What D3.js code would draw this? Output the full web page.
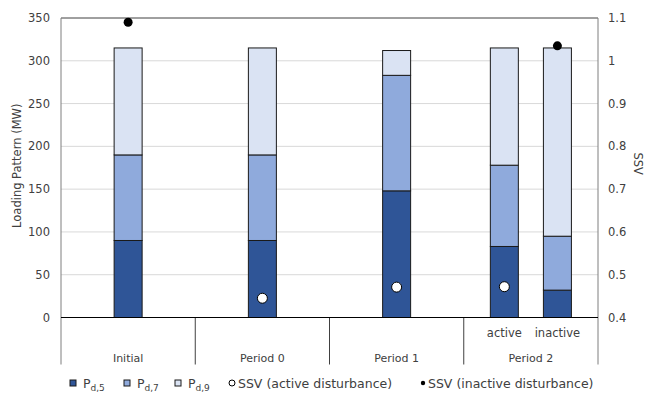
<!DOCTYPE html>
<html lang="en">
<head>
  <meta charset="utf-8">
  <title>Loading pattern and SSV</title>
  <style>
    body { margin: 0; background: #fff; }
    svg text { font-family: "DejaVu Sans", Verdana, sans-serif; fill: #404040; }
  </style>
</head>
<body>
  <svg id="chart" width="655" height="393"></svg>

  <script src="https://d3js.org/d3.v7.min.js"></script>
  <script>
    // bars, left to right
    const groups = ["Initial", "Period 0", "Period 1", "Period 2", "Period 2"];
    const subLabels = ["", "", "", "active", "inactive"];
    const pd5 = [90, 90, 148, 83, 32];
    const pd7 = [100, 100, 135, 95, 63];
    const pd9 = [125, 125, 29, 137, 220];
    const ssvActive = [null, 0.445, 0.471, 0.472, null];
    const ssvInactive = [1.09, null, null, null, 1.035];

    const leftTicks = [0, 50, 100, 150, 200, 250, 300, 350];
    const rightTicks = [0.4, 0.5, 0.6, 0.7, 0.8, 0.9, 1, 1.1];
    const groupNames = ["Initial", "Period 0", "Period 1", "Period 2"];

    const colors = ["#2f5597", "#8faadc", "#dae3f3"];
    const margin = { left: 61, right: 57, top: 18, bottom: 75.5 };
    const W = 655, H = 393;
    const plotW = W - margin.left - margin.right;
    const plotH = H - margin.top - margin.bottom;

    const svg = d3.select("#chart");
    const g = svg.append("g").attr("transform", `translate(${margin.left},${margin.top})`);

    const y = d3.scaleLinear().domain([0, 350]).range([plotH, 0]);
    const y2 = d3.scaleLinear().domain([0.4, 1.1]).range([plotH, 0]);
    const xg = d3.scaleBand().domain(groupNames).range([0, plotW]);

    // bar center inside its group
    function barCenter(i) {
      const sub = groups.filter(d => d === groups[i]);
      if (sub.length === 1) return xg(groups[i]) + xg.bandwidth() / 2;
      const xs = d3.scaleBand().domain(subLabels.filter((s, j) => groups[j] === groups[i]))
        .range([0, xg.bandwidth()]).paddingOuter(0.265).paddingInner(0);
      return xg(groups[i]) + xs(subLabels[i]) + xs.bandwidth() / 2;
    }
    const barW = 28;

    // gridlines
    g.append("g").selectAll("line")
      .data(leftTicks.filter(d => d > 0 && d < 350))
      .join("line")
      .attr("x1", 0).attr("x2", plotW)
      .attr("y1", d => y(d)).attr("y2", d => y(d))
      .attr("stroke", "#d9d9d9").attr("stroke-width", 1);

    // stacked bars
    const stackData = groups.map((grp, i) => ({ i, pd5: pd5[i], pd7: pd7[i], pd9: pd9[i] }));
    const series = d3.stack().keys(["pd5", "pd7", "pd9"])(stackData);
    g.append("g").selectAll("g")
      .data(series)
      .join("g")
      .attr("fill", (d, k) => colors[k])
      .selectAll("rect")
      .data(d => d)
      .join("rect")
      .attr("x", d => barCenter(d.data.i) - barW / 2)
      .attr("y", d => y(d[1]))
      .attr("width", barW)
      .attr("height", d => y(d[0]) - y(d[1]))
      .attr("stroke", "#1a1a1a")
      .attr("stroke-width", 1);

    // frame
    const frame = g.append("g").attr("stroke", "#7f7f7f").attr("fill", "none");
    frame.append("line").attr("x1", 0).attr("x2", plotW).attr("y1", 0).attr("y2", 0).attr("stroke", "#404040");
    frame.append("line").attr("x1", 0).attr("x2", 0).attr("y1", 0).attr("y2", plotH + 47);
    frame.append("line").attr("x1", plotW).attr("x2", plotW).attr("y1", 0).attr("y2", plotH + 47);
    // category dividers
    frame.selectAll(".div")
      .data(groupNames.slice(1))
      .join("line")
      .attr("stroke", "#404040")
      .attr("x1", d => xg(d)).attr("x2", d => xg(d))
      .attr("y1", plotH).attr("y2", plotH + 47);
    g.append("line").attr("x1", 0).attr("x2", plotW).attr("y1", plotH).attr("y2", plotH)
      .attr("stroke", "#000").attr("stroke-width", 1.2);

    // SSV points
    g.append("g").selectAll("circle")
      .data(ssvActive.map((v, i) => ({ v, i })).filter(d => d.v != null))
      .join("circle")
      .attr("cx", d => barCenter(d.i)).attr("cy", d => y2(d.v)).attr("r", 5)
      .attr("fill", "#fff").attr("stroke", "#000").attr("stroke-width", 1);
    g.append("g").selectAll("circle")
      .data(ssvInactive.map((v, i) => ({ v, i })).filter(d => d.v != null))
      .join("circle")
      .attr("cx", d => barCenter(d.i)).attr("cy", d => y2(d.v)).attr("r", 4.5)
      .attr("fill", "#000");

    // left axis labels
    g.append("g").selectAll("text")
      .data(leftTicks)
      .join("text")
      .attr("x", -11).attr("y", d => y(d)).attr("dy", "0.35em")
      .attr("text-anchor", "end").attr("font-size", 11.5)
      .text(d => d);
    // right axis labels
    g.append("g").selectAll("text")
      .data(rightTicks)
      .join("text")
      .attr("x", plotW + 10).attr("y", d => y2(d)).attr("dy", "0.35em")
      .attr("font-size", 11.5)
      .text(d => d);

    // category labels
    g.append("g").selectAll("text")
      .data(subLabels.map((s, i) => ({ s, i })).filter(d => d.s))
      .join("text")
      .attr("x", d => barCenter(d.i)).attr("y", plotH + 19)
      .attr("text-anchor", "middle").attr("font-size", 11.5)
      .text(d => d.s);
    g.append("g").selectAll("text")
      .data(groupNames)
      .join("text")
      .attr("x", d => xg(d) + xg.bandwidth() / 2).attr("y", plotH + 44)
      .attr("text-anchor", "middle").attr("font-size", 11)
      .text(d => d);

    // axis titles
    svg.append("text")
      .attr("transform", `translate(21,${margin.top + plotH / 2 - 2}) rotate(-90)`)
      .attr("text-anchor", "middle").attr("font-size", 11.5)
      .text("Loading Pattern (MW)");
    svg.append("text")
      .attr("transform", `translate(634,${margin.top + plotH / 2 - 4}) rotate(90)`)
      .attr("text-anchor", "middle").attr("font-size", 11.5)
      .text("SSV");

    // legend
    const leg = svg.append("g").attr("transform", "translate(0,388)");
    const legSeries = [
      { x: 70, sub: "d,5" }, { x: 124, sub: "d,7" }, { x: 175, sub: "d,9" }
    ];
    legSeries.forEach((d, k) => {
      leg.append("rect").attr("x", d.x).attr("y", -8).attr("width", 6).attr("height", 6)
        .attr("fill", colors[k]).attr("stroke", "#1a1a1a").attr("stroke-width", 1);
      const t = leg.append("text").attr("x", d.x + 13).attr("y", 0).attr("font-size", 12.5);
      t.append("tspan").text("P");
      t.append("tspan").attr("font-size", 9).attr("dy", 3).text(d.sub);
    });
    leg.append("circle").attr("cx", 232).attr("cy", -5).attr("r", 3)
      .attr("fill", "#fff").attr("stroke", "#000");
    leg.append("text").attr("x", 238).attr("y", 0).attr("font-size", 12.5).text("SSV (active disturbance)");
    leg.append("circle").attr("cx", 423).attr("cy", -5).attr("r", 2.2)
      .attr("fill", "#000");
    leg.append("text").attr("x", 428).attr("y", 0).attr("font-size", 12.5).text("SSV (inactive disturbance)");
  </script>
</body>
</html>
